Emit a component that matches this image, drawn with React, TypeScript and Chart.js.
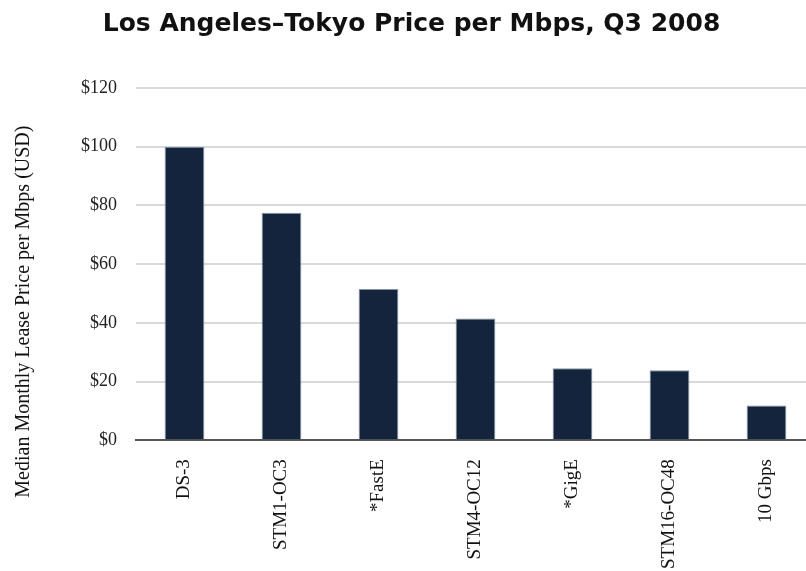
import React, { useEffect, useRef } from 'react';
import { Chart, registerables } from 'chart.js';

Chart.register(...registerables);

const chartTitle = 'Los Angeles–Tokyo Price per Mbps, Q3 2008';
const yAxisTitle = 'Median Monthly Lease Price per Mbps (USD)';
const categories = ['DS-3', 'STM1-OC3', '*FastE', 'STM4-OC12', '*GigE', 'STM16-OC48', '10 Gbps'];
const prices = [100, 77.5, 51.5, 41.5, 24.5, 23.8, 11.8];
const yTicks = [0, 20, 40, 60, 80, 100, 120];

export default function App() {
  const canvasRef = useRef<HTMLCanvasElement | null>(null);

  useEffect(() => {
    if (!canvasRef.current) return;
    const chart = new Chart(canvasRef.current, {
      type: 'bar',
      data: {
        labels: categories,
        datasets: [
          {
            data: prices,
            backgroundColor: '#13243c',
            borderColor: '#8593a6',
            borderWidth: 1,
            categoryPercentage: 1,
            barPercentage: 0.41,
          },
        ],
      },
      options: {
        animation: false,
        responsive: true,
        maintainAspectRatio: false,
        layout: { padding: { left: 8, right: 9, top: 0, bottom: 0 } },
        plugins: {
          legend: { display: false },
          tooltip: { enabled: false },
          title: {
            display: true,
            text: chartTitle,
            color: '#111111',
            font: { family: 'DejaVu Sans', size: 25, weight: 'bold' },
            padding: { top: 9, bottom: 49 },
          },
        },
        scales: {
          x: {
            grid: { display: false },
            border: { display: true, color: '#555555', width: 2 },
            ticks: {
              autoSkip: false,
              minRotation: 90,
              maxRotation: 90,
              padding: 11,
              color: '#111111',
              font: { family: 'Liberation Serif', size: 19 },
            },
          },
          y: {
            min: yTicks[0],
            max: yTicks[yTicks.length - 1],
            border: { display: false },
            grid: { color: '#d9d9d9', lineWidth: 2, drawTicks: false },
            ticks: {
              stepSize: yTicks[1] - yTicks[0],
              padding: 19,
              color: '#222222',
              font: { family: 'Liberation Serif', size: 18 },
              callback: (v: any) => '$' + v,
            },
            title: {
              display: true,
              text: yAxisTitle + '\u2002'.repeat(9) + ' ',
              color: '#111111',
              font: { family: 'Liberation Serif', size: 20 },
              padding: { top: 4, bottom: 26 },
            },
          },
        },
      },
    });
    return () => chart.destroy();
  }, []);

  return (
    <div style={{ position: 'fixed', left: 0, top: 0, width: '806px', height: '571px', overflow: 'hidden', background: '#ffffff' }}>
      <div style={{ position: 'relative', width: '824px', height: '580px' }}>
        <canvas ref={canvasRef} />
      </div>
    </div>
  );
}
